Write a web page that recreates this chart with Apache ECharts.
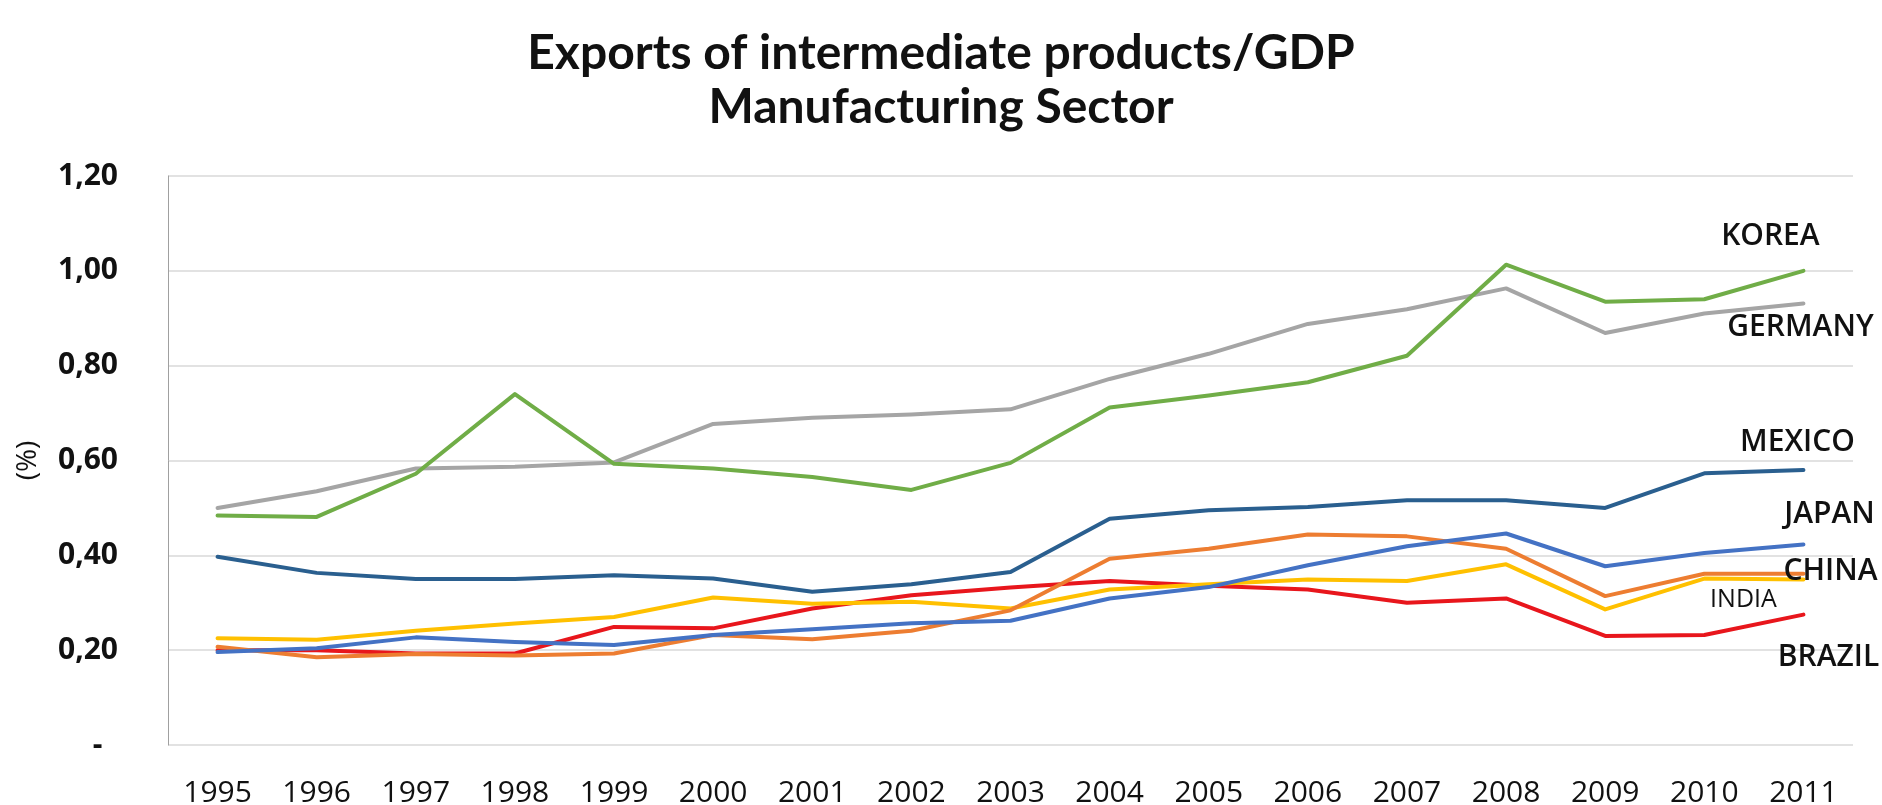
<!DOCTYPE html>
<html>
<head>
<meta charset="utf-8">
<script src="https://cdn.jsdelivr.net/npm/echarts@6/dist/echarts.min.js"></script>
<style>
  html, body { margin: 0; padding: 0; background: #ffffff; }
  #chart { width: 1882px; height: 805px; }
</style>
</head>
<body>
<div id="chart"></div>
<script>
const years = ['1995','1996','1997','1998','1999','2000','2001','2002','2003','2004','2005','2006','2007','2008','2009','2010','2011'];
const yTickLabels = ['-  ', '0,20', '0,40', '0,60', '0,80', '1,00', '1,20'];

const korea   = [0.484, 0.481, 0.572, 0.740, 0.593, 0.583, 0.565, 0.538, 0.595, 0.712, 0.737, 0.765, 0.821, 1.013, 0.935, 0.940, 1.000];
const germany = [0.500, 0.535, 0.583, 0.587, 0.596, 0.677, 0.690, 0.697, 0.708, 0.772, 0.825, 0.888, 0.919, 0.963, 0.869, 0.910, 0.931];
const mexico  = [0.397, 0.363, 0.350, 0.350, 0.358, 0.351, 0.323, 0.339, 0.365, 0.477, 0.495, 0.502, 0.516, 0.516, 0.500, 0.573, 0.580];
const japan   = [0.196, 0.204, 0.227, 0.217, 0.211, 0.232, 0.244, 0.257, 0.262, 0.309, 0.333, 0.379, 0.419, 0.446, 0.377, 0.405, 0.423];
const china   = [0.207, 0.185, 0.192, 0.189, 0.193, 0.232, 0.223, 0.241, 0.284, 0.393, 0.414, 0.444, 0.440, 0.414, 0.314, 0.361, 0.361];
const india   = [0.225, 0.222, 0.241, 0.256, 0.270, 0.311, 0.298, 0.302, 0.288, 0.328, 0.339, 0.349, 0.346, 0.381, 0.286, 0.351, 0.349];
const brazil  = [0.200, 0.200, 0.193, 0.193, 0.249, 0.246, 0.288, 0.316, 0.332, 0.346, 0.336, 0.328, 0.300, 0.309, 0.230, 0.232, 0.275];

const seriesNames = ['BRAZIL', 'INDIA', 'CHINA', 'JAPAN', 'MEXICO', 'GERMANY', 'KOREA'];
const seriesData  = [brazil, india, china, japan, mexico, germany, korea];
const seriesColors = ['#e8161c', '#ffc000', '#ed7d31', '#4472c4', '#2a5f8f', '#a5a5a5', '#70ad47'];
const labelOffsets = {
  KOREA:   [-41, -34],
  GERMANY: [-11, 24],
  MEXICO:  [-14, -28],
  JAPAN:   [18, -30],
  CHINA:   [19, -2],
  INDIA:   [-68, 20],
  BRAZIL:  [17, 43]
};

const chart = echarts.init(document.getElementById('chart'), null, { renderer: 'canvas' });

const series = seriesNames.map((name, i) => ({
  name: name,
  type: 'line',
  data: seriesData[i],
  symbol: 'none',
  smooth: false,
  lineStyle: { color: seriesColors[i], width: 4, cap: 'round', join: 'round' },
  itemStyle: { color: seriesColors[i] },
  emphasis: { disabled: true },
  endLabel: {
    show: true,
    formatter: name,
    distance: 8,
    offset: labelOffsets[name],
    align: 'center',
    verticalAlign: 'middle',
    color: '#111111',
    fontFamily: 'Open Sans',
    fontWeight: name === 'INDIA' ? 'normal' : 600,
    fontSize: name === 'INDIA' ? 25 : 30
  }
}));

chart.setOption({
  backgroundColor: '#ffffff',
  animation: false,
  title: {
    text: 'Exports of intermediate products/GDP\nManufacturing Sector',
    left: 'center',
    top: 22,
    textStyle: {
      fontFamily: 'Lato',
      fontWeight: 'bold',
      fontSize: 48,
      lineHeight: 54,
      color: '#111111'
    }
  },
  grid: { left: 168, right: 29, top: 176, bottom: 60, containLabel: false, outerBoundsMode: 'none' },
  xAxis: {
    type: 'category',
    data: years,
    boundaryGap: true,
    axisLine: { show: false },
    axisTick: { show: false },
    axisLabel: {
      margin: 33,
      fontFamily: 'Open Sans',
      fontSize: 30,
      color: '#111111'
    },
    splitLine: { show: false }
  },
  yAxis: {
    type: 'value',
    min: 0,
    max: 1.2,
    interval: 0.2,
    name: '(%)',
    nameLocation: 'middle',
    nameGap: 126,
    nameRotate: 90,
    nameTextStyle: { fontFamily: 'Open Sans', fontSize: 28, color: '#111111' },
    axisLine: { show: true, lineStyle: { color: '#a0a0a0', width: 1 } },
    axisTick: { show: false },
    axisLabel: {
      margin: 50,
      fontFamily: 'Open Sans',
      fontWeight: 700,
      fontSize: 30,
      color: '#111111',
      formatter: function (v) { return yTickLabels[Math.round(v / 0.2)]; }
    },
    splitLine: { show: true, lineStyle: { color: '#d9d9d9', width: 1.5 } }
  },
  series: series
});
</script>
</body>
</html>
